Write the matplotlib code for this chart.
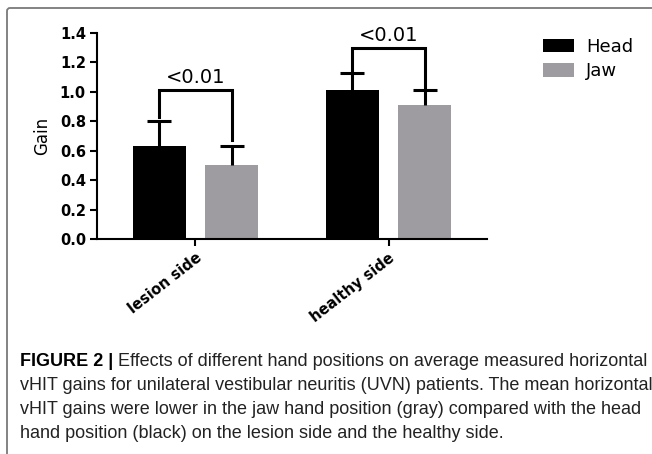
import matplotlib
matplotlib.use("Agg")
import matplotlib.pyplot as plt
import numpy as np
from matplotlib.patches import FancyBboxPatch
from matplotlib.transforms import IdentityTransform

categories = ['lesion side', 'healthy side']
head_mean = [0.63, 1.01]
head_err = [0.17, 0.12]
jaw_mean = [0.505, 0.91]
jaw_err = [0.13, 0.10]
p_labels = ['<0.01', '<0.01']
bracket_top = [1.01, 1.30]
bracket_left_end = [0.826, 1.13]
bracket_right_end = [0.675, 1.01]

caption_lines = [
    "vHIT gains for unilateral vestibular neuritis (UVN) patients. The mean horizontal",
    "vHIT gains were lower in the jaw hand position (gray) compared with the head",
    "hand position (black) on the lesion side and the healthy side.",
]

W, H = 652, 454
fig = plt.figure(figsize=(W / 100, H / 100), dpi=100)
ax = fig.add_axes([97 / W, 1 - 239 / H, 390 / W, 206 / H])

x = np.arange(len(categories))
width = 0.274
off = 0.187
gray = '#9f9ca1'

ax.bar(x - off, head_mean, width, color='black', label='Head')
ax.bar(x + off, jaw_mean, width, color=gray, label='Jaw')

# one-sided error bars (upper only)
for pos, m, e in [(x - off, head_mean, head_err), (x + off, jaw_mean, jaw_err)]:
    top = np.array(m) + np.array(e)
    ax.vlines(pos, m, top, color='black', lw=2.2)
    ax.plot(pos, top, ls='none', marker='_', markersize=17, mew=2.2, color='black')

# significance brackets
for i in range(len(categories)):
    xl, xr = x[i] - off, x[i] + off
    ax.plot([xl, xl, xr, xr],
            [bracket_left_end[i], bracket_top[i], bracket_top[i], bracket_right_end[i]],
            color='black', lw=2.2, solid_joinstyle='miter', clip_on=False)
    ax.text(x[i], bracket_top[i] + 0.02, p_labels[i], ha='center', va='bottom',
            fontsize=14, clip_on=False)

ax.set_xlim(-0.51, 1.51)
ax.set_ylim(0, 1.4)
ax.set_yticks(np.arange(0, 1.41, 0.2))
ax.set_yticklabels(['%.1f' % v for v in np.arange(0, 1.41, 0.2)],
                   fontweight='bold', fontsize=10.5)
ax.set_xticks(x)
ax.set_xticklabels(categories, rotation=38, ha='right', rotation_mode='anchor',
                   fontweight='bold', fontsize=10.5)
ax.set_ylabel('Gain', fontsize=12, labelpad=6)

for s in ['top', 'right']:
    ax.spines[s].set_visible(False)
for s in ['left', 'bottom']:
    ax.spines[s].set_linewidth(1.5)
ax.tick_params(width=1.5, length=5, pad=3)

ax.legend(loc='upper left', bbox_to_anchor=(543 / W, 1 - 38 / H),
          bbox_transform=fig.transFigure, frameon=False, fontsize=13,
          handlelength=1.7, handleheight=0.75, handletextpad=0.7,
          labelspacing=0.35, borderpad=0, borderaxespad=0)

# frame of the figure panel
frame = FancyBboxPatch((7, -30), 700, H - 8 + 30,
                       boxstyle='round,pad=0,rounding_size=3',
                       transform=IdentityTransform(), fill=False,
                       edgecolor='#7a7a7a', lw=1.3)
fig.add_artist(frame)

# caption
cap_font = 'Liberation Sans'
cap_size = 13.0
t0 = fig.text(20 / W, 1 - 366 / H, 'FIGURE 2 |', fontweight='bold',
              fontsize=cap_size, family=cap_font, va='baseline', ha='left')
fig.canvas.draw()
ax.annotate(' Effects of different hand positions on average measured horizontal',
            xy=(1, 0), xycoords=t0, va='bottom', ha='left',
            fontsize=cap_size, family=cap_font, color='#222222',
            annotation_clip=False)
for k, line in enumerate(caption_lines):
    fig.text(20 / W, 1 - (390 + 24 * k) / H, line, fontsize=cap_size,
             family=cap_font, color='#222222', va='baseline', ha='left')

fig.savefig('out.png', dpi=100)
